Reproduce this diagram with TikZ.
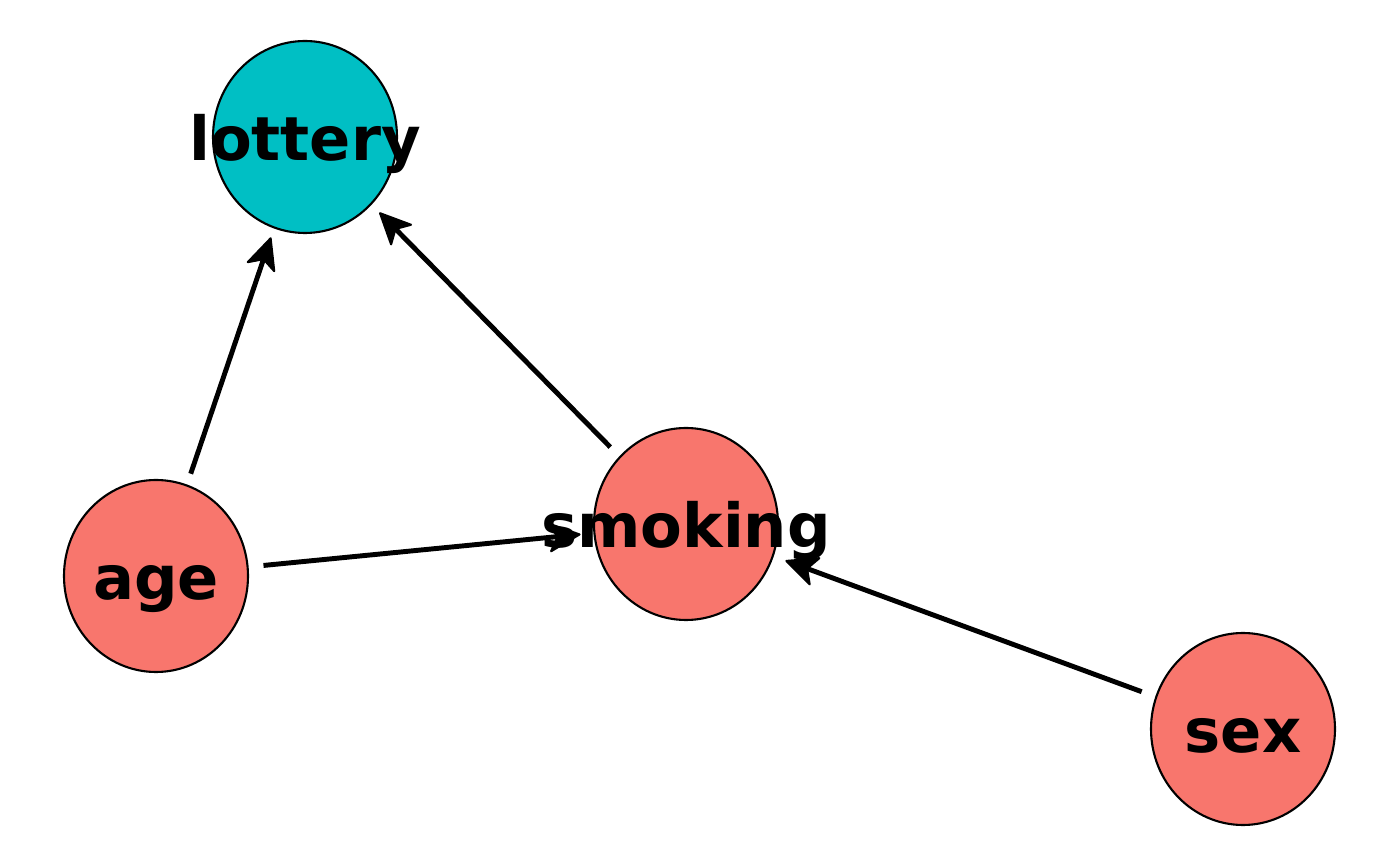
\documentclass[tikz,border=0pt]{standalone}
\usepackage{fontspec}
\setmainfont{DejaVu Sans}
\usetikzlibrary{shapes.geometric,calc}
\definecolor{dagred}{HTML}{F8766D}
\definecolor{dagcyan}{HTML}{00BFC4}
\begin{document}
\begin{tikzpicture}[
    dagnode/.style={ellipse,draw,line width=.6pt,inner sep=0pt,minimum width=1.84cm,minimum height=1.92cm},
    dagtext/.style={anchor=base,inner sep=0pt,font=\fontsize{17.3}{20}\selectfont\bfseries},
    dagedge/.style={line width=1.4pt},
    daghead/.style={fill=black,draw=black,line width=.6pt,line join=round}]
      \useasboundingbox (0,0) rectangle (14,8.66);
      \node[dagnode,fill=dagcyan] (lottery) at (3.05,7.29) {};
      \node[dagnode,fill=dagred] (age) at (1.56,2.90) {};
      \node[dagnode,fill=dagred] (smoking) at (6.86,3.42) {};
      \node[dagnode,fill=dagred] (sex) at (12.43,1.37) {};
      \foreach \v in {lottery,age,smoking,sex} {
        \node[dagtext] (\v-txt) at ([yshift=-.24cm]\v.center) {\v};
      }
      \foreach \a/\b in {age/lottery,smoking/lottery,age/smoking,sex/smoking} {
        \coordinate (\a-\b-s) at ($(\a.center)!1.08cm!(\b.center)$);
        \coordinate (\a-\b-t) at ($(\b.center)!1.07cm!(\a.center)$);
        \draw[dagedge] (\a-\b-s) -- ($(\a-\b-t)!2.2mm!(\a-\b-s)$);
        \path[daghead] (\a-\b-t) -- ($(\a-\b-t)!3.3mm!25:(\a-\b-s)$)
          -- ($(\a-\b-t)!2.2mm!(\a-\b-s)$) -- ($(\a-\b-t)!3.3mm!-25:(\a-\b-s)$) -- cycle;
      }
    \end{tikzpicture}
\end{document}
